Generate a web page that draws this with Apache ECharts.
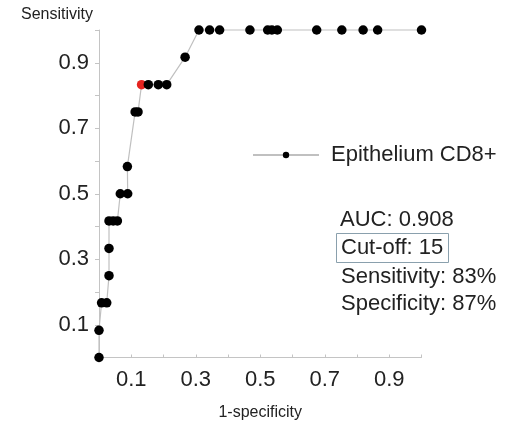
<!DOCTYPE html>
<html>
<head>
<meta charset="utf-8">
<script src="https://cdn.jsdelivr.net/npm/echarts@6/dist/echarts.min.js"></script>
<style>
html,body{margin:0;padding:0;background:#fff;}
#chart{width:517px;height:423px;}
</style>
</head>
<body>
<div id="chart"></div>
<script>
// 1-specificity (x) and sensitivity (y) of ROC points
var fpr = [0, 0, 0.008, 0.024, 0.031, 0.031, 0.031, 0.044, 0.057, 0.066, 0.089, 0.088, 0.112, 0.121, 0.132, 0.153, 0.184, 0.210, 0.267, 0.310, 0.343, 0.374, 0.468, 0.523, 0.536, 0.553, 0.675, 0.753, 0.819, 0.864, 1.0];
var tpr = [0, 0.083, 0.167, 0.167, 0.25, 0.333, 0.417, 0.417, 0.417, 0.5, 0.5, 0.583, 0.75, 0.75, 0.833, 0.833, 0.833, 0.833, 0.917, 1, 1, 1, 1, 1, 1, 1, 1, 1, 1, 1, 1];
var cutoffIndex = 14;
var seriesName = 'Epithelium CD8+';
var tickLabels = ['0.1', '0.3', '0.5', '0.7', '0.9'];
var annotations = ['AUC: 0.908', 'Cut-off: 15', 'Sensitivity: 83%', 'Specificity: 87%'];

var points = fpr.map(function (x, i) {
  var p = { value: [x, tpr[i]] };
  if (i === cutoffIndex) p.itemStyle = { color: '#e5231f' };
  return p;
});

function fmt(v) {
  var s = (Math.round(v * 10) / 10).toFixed(1);
  return tickLabels.indexOf(s) >= 0 ? s : '';
}

var FONT = 'Liberation Sans, Arial, sans-serif';
var chart = echarts.init(document.getElementById('chart'), null, { renderer: 'canvas' });
chart.setOption({
  backgroundColor: '#fff',
  animation: false,
  grid: { left: 99, top: 30, width: 322.5, height: 327.5, containLabel: false, outerBoundsMode: 'none' },
  xAxis: {
    type: 'value', min: 0, max: 1, interval: 0.1,
    name: '1-specificity', nameLocation: 'middle', nameGap: 47,
    nameTextStyle: { fontFamily: FONT, fontSize: 16, color: '#222' },
    axisLine: { lineStyle: { color: '#c4c4c4', width: 1 } },
    axisTick: { show: true, inside: true, length: 3, lineStyle: { color: '#c4c4c4' } },
    axisLabel: { formatter: fmt, fontFamily: FONT, fontSize: 22, color: '#222', margin: 11, showMinLabel: true, showMaxLabel: true },
    splitLine: { show: false }
  },
  yAxis: {
    type: 'value', min: 0, max: 1, interval: 0.1,
    name: 'Sensitivity', nameLocation: 'end', nameGap: 7,
    nameTextStyle: { fontFamily: FONT, fontSize: 16, color: '#222', align: 'right', padding: [0, 6, 0, 0] },
    axisLine: { show: true, lineStyle: { color: '#c4c4c4', width: 1 } },
    axisTick: { show: true, inside: false, length: 4, lineStyle: { color: '#c4c4c4' } },
    axisLabel: { formatter: fmt, fontFamily: FONT, fontSize: 22, color: '#222', margin: 10 },
    splitLine: { show: false }
  },
  legend: {
    data: [seriesName],
    left: 252, top: 144, padding: 0,
    itemWidth: 66, itemHeight: 8,
    textStyle: { fontFamily: FONT, fontSize: 22, color: '#222', padding: [0, 0, 14, 7] }
  },
  graphic: [
    { type: 'rect', shape: { x: 336.5, y: 233.5, width: 112, height: 29 }, style: { fill: 'none', stroke: '#8aa0ad', lineWidth: 1 } }
  ].concat(annotations.map(function (t, i) {
    var ys = [220, 248, 276.5, 303.5];
    return { type: 'text', x: i === 0 ? 340 : 341, y: ys[i], style: { text: t, font: '22px ' + FONT, fill: '#222', textVerticalAlign: 'middle' } };
  })),
  series: [{
    name: seriesName,
    type: 'line',
    data: points,
    symbol: 'circle',
    symbolSize: 9.5,
    itemStyle: { color: '#000' },
    lineStyle: { color: '#c0c0c0', width: 1.2 },
    clip: false
  }]
});
</script>
</body>
</html>
